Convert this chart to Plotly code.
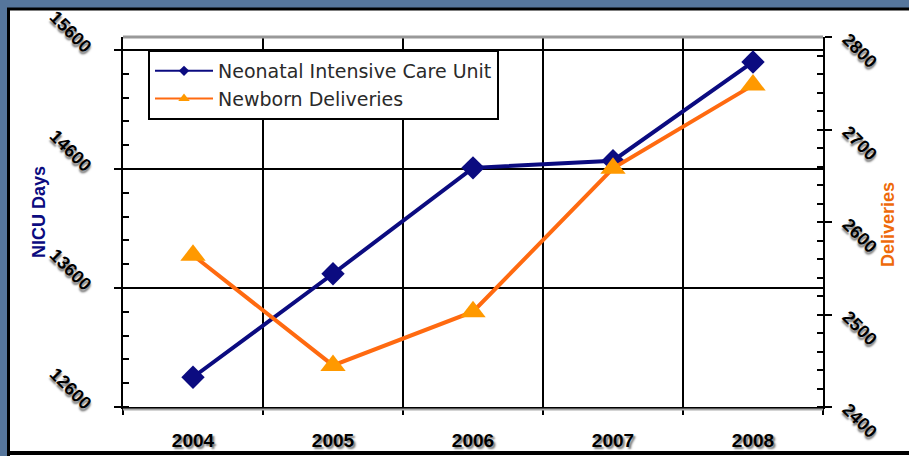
import plotly.graph_objects as go

years = ["2004", "2005", "2006", "2007", "2008"]
nicu_days = [12850, 13720, 14610, 14670, 15500]
deliveries = [2564, 2445, 2503, 2658, 2748]

NAVY = "#0b0b80"
ORANGE_LINE = "#ff6a10"
ORANGE_MK = "#ff9900"
BLUE_BG = "#56769c"

W, H = 909, 456
L, R, T, B = 123, 86, 37, 49
pw, ph = W - L - R, H - T - B

def px(x):
    return (x - L) / pw

def py(y):
    return (H - B - y) / ph

fig = go.Figure()
fig.add_trace(go.Scatter(
    x=years, y=nicu_days, mode="lines+markers", name="Neonatal Intensive Care Unit",
    line=dict(color=NAVY, width=4), marker=dict(symbol="diamond", size=18, color=NAVY),
    showlegend=False, yaxis="y"))
fig.add_trace(go.Scatter(
    x=years, y=deliveries, mode="lines+markers", name="Newborn Deliveries",
    line=dict(color=ORANGE_LINE, width=4), marker=dict(symbol="triangle-up", size=22, color=ORANGE_MK),
    showlegend=False, yaxis="y2"))
# legend entries
fig.add_trace(go.Scatter(
    x=[None], y=[None], mode="lines+markers", name="Neonatal Intensive Care Unit",
    line=dict(color=NAVY, width=2), marker=dict(symbol="diamond", size=8, color=NAVY)))
fig.add_trace(go.Scatter(
    x=[None], y=[None], mode="lines+markers", name="Newborn Deliveries",
    line=dict(color=ORANGE_LINE, width=2), marker=dict(symbol="triangle-up", size=10, color=ORANGE_MK),
    yaxis="y2"))

tickfont = dict(family="Liberation Sans, Arial", size=18, color="black", weight="bold",
                shadow="2px 2px 2px #777")
xtickfont = dict(tickfont, size=19)

fig.update_layout(
    width=W, height=H,
    margin=dict(l=L, r=R, t=T, b=B, pad=0, autoexpand=False),
    paper_bgcolor="white", plot_bgcolor="white",
    font=dict(family="Liberation Sans, Arial", color="black"),
    xaxis=dict(
        type="category", range=[-0.5, 4.5], tickson="boundaries", automargin=False,
        showgrid=True, gridcolor="black", gridwidth=2,
        ticks="outside", ticklen=6, tickwidth=2, tickcolor="black",
        showline=True, linecolor="black", linewidth=2,
        tickfont=xtickfont, ticklabelstandoff=15,
    ),
    yaxis=dict(
        range=[12600, 15710], tick0=12600, dtick=1000, tickformat="d", automargin=False,
        showgrid=True, gridcolor="black", gridwidth=2, zeroline=False,
        ticks="outside", ticklen=7, tickwidth=2, tickcolor="black",
        minor=dict(dtick=200, ticks="inside", ticklen=6, tickwidth=2, tickcolor="black", showgrid=False),
        showline=True, linecolor="black", linewidth=2,
        tickangle=45, tickfont=tickfont, ticklabelstandoff=20,
    ),
    yaxis2=dict(
        overlaying="y", side="right", range=[2400, 2800], tick0=2400, dtick=100, tickformat="d",
        automargin=False, showgrid=False, zeroline=False,
        ticks="outside", ticklen=7, tickwidth=2, tickcolor="black",
        minor=dict(dtick=20, ticks="inside", ticklen=6, tickwidth=2, tickcolor="black", showgrid=False),
        showline=True, linecolor="black", linewidth=2,
        tickangle=45, tickfont=tickfont, ticklabelstandoff=12,
    ),
    legend=dict(
        x=px(148), y=py(50), xanchor="left", yanchor="top",
        bgcolor="white", bordercolor="black", borderwidth=2,
        font=dict(family="DejaVu Sans, Arial", size=19, color="#2a2a2a"),
        itemwidth=58, tracegroupgap=0,
    ),
    shapes=[
        dict(type="rect", xref="paper", yref="paper", layer="below",
             x0=px(-10), x1=px(1000), y0=py(-10), y1=py(8), line=dict(width=0),
             fillcolor=BLUE_BG),
        dict(type="rect", xref="paper", yref="paper", layer="below",
             x0=px(-10), x1=px(7), y0=py(500), y1=py(-10), line=dict(width=0),
             fillcolor=BLUE_BG),
        dict(type="line", xref="paper", yref="paper", x0=px(7), x1=px(1000),
             y0=py(9), y1=py(9), line=dict(color="black", width=3)),
        dict(type="line", xref="paper", yref="paper", x0=px(8.5), x1=px(8.5),
             y0=py(9), y1=py(500), line=dict(color="black", width=3)),
        dict(type="line", xref="paper", yref="paper", x0=px(7), x1=px(1000),
             y0=py(453), y1=py(453), line=dict(color="black", width=4)),
        dict(type="line", xref="paper", yref="paper",
             x0=0, x1=1, y0=1, y1=1, line=dict(color="#999999", width=3)),
        dict(type="line", xref="paper", yref="paper",
             x0=0, x1=1, y0=py(409.5), y1=py(409.5), line=dict(color="#aaaaaa", width=2)),
    ],
    annotations=[
        dict(text="NICU Days", textangle=-90, xref="paper", yref="paper",
             x=px(27), y=py(212), showarrow=False,
             font=dict(family="Liberation Sans, Arial", size=18, color=NAVY, weight="bold")),
        dict(text="Deliveries", textangle=-90, xref="paper", yref="paper",
             x=px(900), y=py(225), showarrow=False,
             font=dict(family="Liberation Sans, Arial", size=18, color="#ee6a0a", weight="bold")),
    ],
)

fig.write_html("out.html", config={"displayModeBar": False},
               post_script="document.documentElement.style.overflow='hidden';"
                           "document.body.style.margin='0px';document.body.style.overflow='hidden';")
